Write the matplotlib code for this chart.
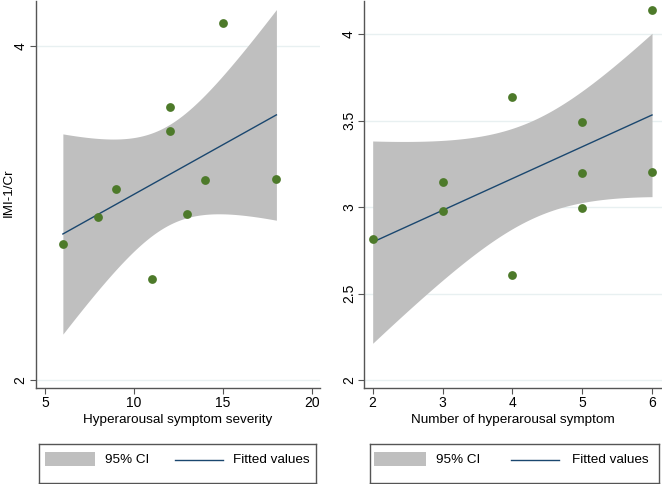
import numpy as np
import matplotlib
matplotlib.use("Agg")
import matplotlib.pyplot as plt
from matplotlib.patches import Rectangle
from matplotlib.lines import Line2D

plt.rcParams['font.family'] = ['Liberation Sans', 'DejaVu Sans']

# Data
severity = [6, 8, 9, 11, 12, 12, 13, 14, 15, 18]
n_symptoms = [2, 3, 3, 4, 4, 5, 5, 5, 6, 6]
imi_cr = [2.815, 2.978, 3.143, 2.606, 3.635, 3.493, 2.995, 3.200, 4.138, 3.205]

left_xlabel = "Hyperarousal symptom severity"
right_xlabel = "Number of hyperarousal symptom"
ylabel = "IMI-1/Cr"
left_xticks = [5, 10, 15, 20]
left_yticks = [2, 4]
right_xticks = [2, 3, 4, 5, 6]
right_yticks = [2, 2.5, 3, 3.5, 4]
right_yticklabels = ["2", "2.5", "3", "3.5", "4"]
legend_labels = ["95% CI", "Fitted values"]
T_CRIT = 2.306  # t(0.975, df=8)

GREEN = "#4d7a2a"
GRAY = "#bfbfbf"
NAVY = "#1a476f"
GRID = "#e8f0f1"
SPINE = "#555555"
TICK_FS = 10
LABEL_FS = 9.7

fig = plt.figure(figsize=(6.62, 4.84), dpi=100)


def fit_ci(x, y):
    x = np.asarray(x, float)
    y = np.asarray(y, float)
    b, a = np.polyfit(x, y, 1)
    n = len(x)
    resid = y - (a + b * x)
    s = np.sqrt(np.sum(resid ** 2) / (n - 2))
    xs = np.linspace(x.min(), x.max(), 200)
    yh = a + b * xs
    se = s * np.sqrt(1 / n + (xs - x.mean()) ** 2 / np.sum((x - x.mean()) ** 2))
    return xs, yh, yh - T_CRIT * se, yh + T_CRIT * se


def panel(rect, x, y, xlim, ylim, xticks, yticks, yticklabels, xlabel, ylab):
    ax = fig.add_axes(rect)
    xs, yh, lo, hi = fit_ci(x, y)
    ax.fill_between(xs, lo, hi, color=GRAY, linewidth=0, zorder=1)
    ax.plot(xs, yh, color=NAVY, linewidth=1.0, zorder=2)
    ax.scatter(x, y, s=40, color=GREEN, zorder=3, linewidths=0)
    ax.set_xlim(*xlim)
    ax.set_ylim(*ylim)
    ax.set_xticks(xticks)
    ax.set_yticks(yticks)
    ax.set_yticklabels(yticklabels, rotation=90, va='center')
    for yt in yticks:
        ax.axhline(yt, color=GRID, linewidth=1.0, zorder=0)
    for s in ['top', 'right']:
        ax.spines[s].set_visible(False)
    for s in ['left', 'bottom']:
        ax.spines[s].set_color(SPINE)
        ax.spines[s].set_linewidth(1.0)
    ax.tick_params(direction='out', length=4, width=0.8, color=SPINE,
                   labelsize=TICK_FS, pad=2)
    ax.set_xlabel(xlabel, fontsize=LABEL_FS, labelpad=3)
    if ylab:
        ax.set_ylabel(ylab, fontsize=LABEL_FS)
        ax.yaxis.label.set_va('center')
        ax.yaxis.set_label_coords(-0.095, 0.505)
    return ax


axL = panel([36 / 662, 1 - 388 / 484, 284 / 662, 388 / 484 - 0.002],
            severity, imi_cr, (4.49, 20.45), (1.952, 4.273),
            left_xticks, left_yticks, [str(v) for v in left_yticks],
            left_xlabel, ylabel)
axR = panel([364.3 / 662, 1 - 388 / 484, 297.5 / 662, 388 / 484 - 0.002],
            n_symptoms, imi_cr, (1.88, 6.14), (1.954, 4.193),
            right_xticks, right_yticks, right_yticklabels,
            right_xlabel, None)


def legend_box(rect, p0, p1, t0, l0, l1, t1):
    lax = fig.add_axes(rect)
    lax.set_xlim(0, 1)
    lax.set_ylim(0, 1)
    lax.set_xticks([])
    lax.set_yticks([])
    for s in lax.spines.values():
        s.set_color(SPINE)
        s.set_linewidth(1.0)
    lax.add_patch(Rectangle((p0, 0.44), p1 - p0, 0.36, color=GRAY, linewidth=0))
    lax.text(t0, 0.6, legend_labels[0], fontsize=LABEL_FS, va='center', ha='left')
    lax.add_line(Line2D([l0, l1], [0.6, 0.6], color=NAVY, linewidth=1.0))
    lax.text(t1, 0.6, legend_labels[1], fontsize=LABEL_FS, va='center', ha='left')


legend_box([39 / 662, 1 / 484, 277 / 662, 39 / 484], 0.022, 0.202, 0.238, 0.491, 0.664, 0.70)
legend_box([369.5 / 662, 1 / 484, 289.5 / 662, 39 / 484], 0.016, 0.195, 0.23, 0.489, 0.655, 0.70)

fig.savefig("out.png", dpi=100)
